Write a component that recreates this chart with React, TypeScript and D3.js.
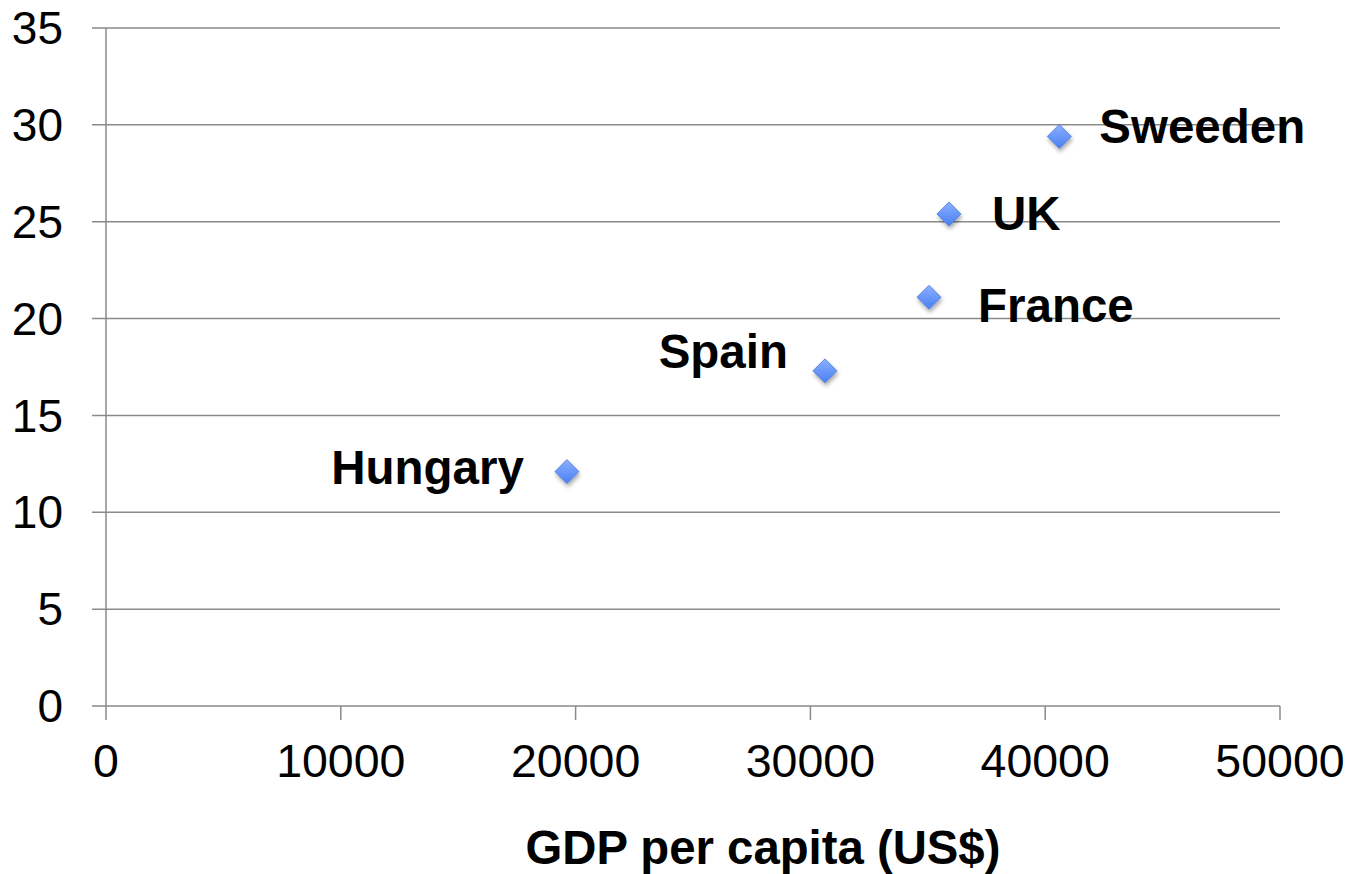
import React from "react";
import * as d3 from "d3";

const countries = ["Sweeden", "UK", "France", "Spain", "Hungary"];
const gdp = [40600, 35900, 35050, 30620, 19630];
const value = [29.4, 25.4, 21.1, 17.3, 12.1];
const xTicks = [0, 10000, 20000, 30000, 40000, 50000];
const yTicks = [0, 5, 10, 15, 20, 25, 30, 35];
const xTitle = "GDP per capita (US$)";

// label placement (dx, dy, anchor)
const labelPlace: [number, number, string][] = [
  [40, 7, "start"],
  [43, 16, "start"],
  [49, 25, "start"],
  [-37, -3, "end"],
  [-43, 12, "end"],
];

export default function App() {
  const W = 1352, H = 874;
  const x = d3.scaleLinear().domain([0, 50000]).range([106, 1280]);
  const y = d3.scaleLinear().domain([0, 35]).range([706, 28]);
  const grid = "#8a8a8a";
  const font = "Arial, 'Liberation Sans', Helvetica, sans-serif";
  const r = 12;
  return (
    <svg width={W} height={H} style={{ position: "absolute", left: 0, top: 0 }} fontFamily={font}>
      <defs>
        <linearGradient id="mk" x1="0" y1="0" x2="0" y2="1">
          <stop offset="0" stopColor="#8ab0ff" />
          <stop offset="1" stopColor="#4a7ff2" />
        </linearGradient>
        <filter id="sh" x="-50%" y="-50%" width="200%" height="200%">
          <feGaussianBlur in="SourceAlpha" stdDeviation="2" />
          <feOffset dx="1" dy="3" result="b" />
          <feComponentTransfer><feFuncA type="linear" slope="0.35" /></feComponentTransfer>
          <feMerge><feMergeNode /><feMergeNode in="SourceGraphic" /></feMerge>
        </filter>
      </defs>
      <rect width={W} height={H} fill="#fff" />
      {yTicks.map((t) => (
        <g key={"y" + t}>
          <line x1={92} x2={1280} y1={y(t)} y2={y(t)} stroke={grid} strokeWidth={1.5} />
          <text x={63} y={y(t)} dy="0.35em" textAnchor="end" fontSize={46} fill="#000">{t}</text>
        </g>
      ))}
      <line x1={x(0)} x2={x(0)} y1={y(35)} y2={y(0)} stroke={grid} strokeWidth={1.5} />
      {xTicks.map((t) => (
        <g key={"x" + t}>
          <line x1={x(t)} x2={x(t)} y1={y(0)} y2={y(0) + 14} stroke={grid} strokeWidth={1.5} />
          <text x={x(t)} y={777} textAnchor="middle" fontSize={46.5} fill="#000">{t}</text>
        </g>
      ))}
      {countries.map((c, i) => {
        const cx = x(gdp[i]), cy = y(value[i]);
        const [dx, dy, anchor] = labelPlace[i];
        return (
          <g key={c}>
            <path
              d={`M${cx},${cy - r}L${cx + r},${cy}L${cx},${cy + r}L${cx - r},${cy}Z`}
              fill="url(#mk)"
              stroke="#4a78e0"
              strokeWidth={0.8}
              filter="url(#sh)"
            />
            <text x={cx + dx} y={cy + dy} textAnchor={anchor} fontSize={47.5} fontWeight="bold" fill="#000">{c}</text>
          </g>
        );
      })}
      <text x={763} y={864} textAnchor="middle" fontSize={47.3} fontWeight="bold" fill="#000">{xTitle}</text>
    </svg>
  );
}
